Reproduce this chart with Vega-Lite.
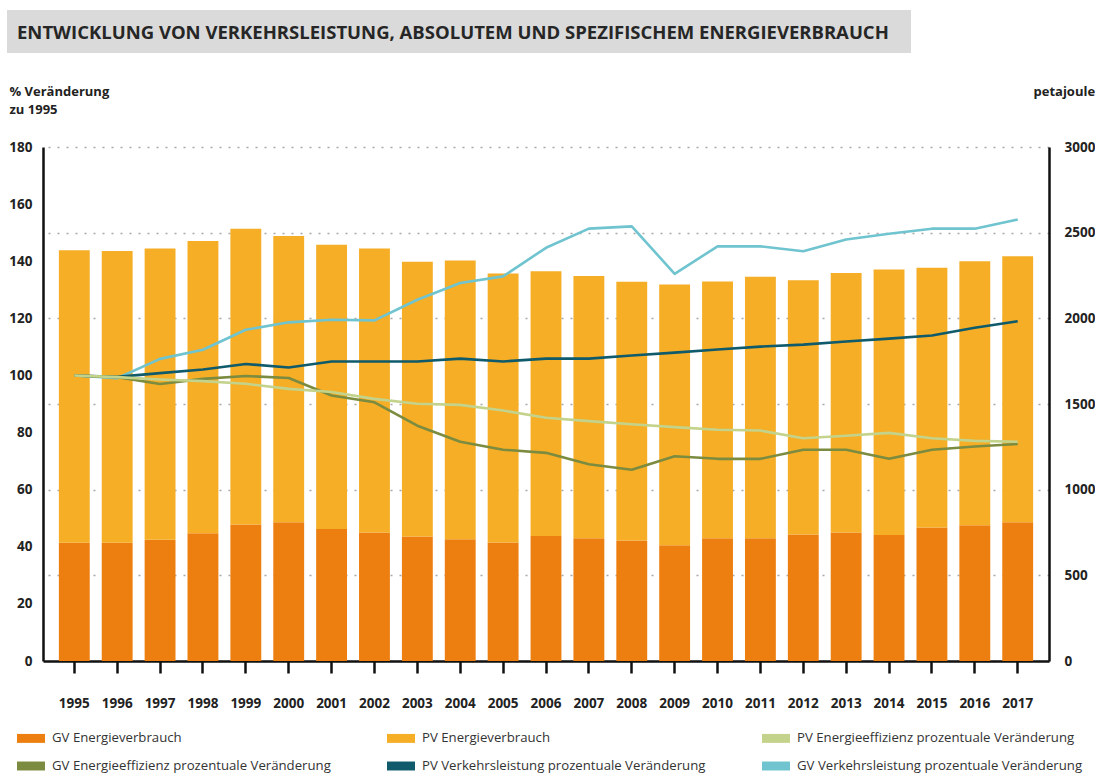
{
  "$schema": "https://vega.github.io/schema/vega-lite/v6.json",
  "background": "white",
  "padding": {"left": 7, "top": 10, "right": 0, "bottom": 0},
  "width": 1006,
  "height": 514,
  "view": {"stroke": null},
  "datasets": {
    "bars": [
      {"year": "1995", "series": "GV Energieverbrauch", "pj": 690}, {"year": "1995", "series": "PV Energieverbrauch", "pj": 1708},
      {"year": "1996", "series": "GV Energieverbrauch", "pj": 690}, {"year": "1996", "series": "PV Energieverbrauch", "pj": 1703},
      {"year": "1997", "series": "GV Energieverbrauch", "pj": 707}, {"year": "1997", "series": "PV Energieverbrauch", "pj": 1700},
      {"year": "1998", "series": "GV Energieverbrauch", "pj": 746}, {"year": "1998", "series": "PV Energieverbrauch", "pj": 1706},
      {"year": "1999", "series": "GV Energieverbrauch", "pj": 796}, {"year": "1999", "series": "PV Energieverbrauch", "pj": 1727},
      {"year": "2000", "series": "GV Energieverbrauch", "pj": 810}, {"year": "2000", "series": "PV Energieverbrauch", "pj": 1670},
      {"year": "2001", "series": "GV Energieverbrauch", "pj": 771}, {"year": "2001", "series": "PV Energieverbrauch", "pj": 1659},
      {"year": "2002", "series": "GV Energieverbrauch", "pj": 750}, {"year": "2002", "series": "PV Energieverbrauch", "pj": 1657},
      {"year": "2003", "series": "GV Energieverbrauch", "pj": 727}, {"year": "2003", "series": "PV Energieverbrauch", "pj": 1603},
      {"year": "2004", "series": "GV Energieverbrauch", "pj": 710}, {"year": "2004", "series": "PV Energieverbrauch", "pj": 1627},
      {"year": "2005", "series": "GV Energieverbrauch", "pj": 691}, {"year": "2005", "series": "PV Energieverbrauch", "pj": 1571},
      {"year": "2006", "series": "GV Energieverbrauch", "pj": 730}, {"year": "2006", "series": "PV Energieverbrauch", "pj": 1545},
      {"year": "2007", "series": "GV Energieverbrauch", "pj": 717}, {"year": "2007", "series": "PV Energieverbrauch", "pj": 1530},
      {"year": "2008", "series": "GV Energieverbrauch", "pj": 703}, {"year": "2008", "series": "PV Energieverbrauch", "pj": 1510},
      {"year": "2009", "series": "GV Energieverbrauch", "pj": 676}, {"year": "2009", "series": "PV Energieverbrauch", "pj": 1521},
      {"year": "2010", "series": "GV Energieverbrauch", "pj": 717}, {"year": "2010", "series": "PV Energieverbrauch", "pj": 1498},
      {"year": "2011", "series": "GV Energieverbrauch", "pj": 717}, {"year": "2011", "series": "PV Energieverbrauch", "pj": 1526},
      {"year": "2012", "series": "GV Energieverbrauch", "pj": 738}, {"year": "2012", "series": "PV Energieverbrauch", "pj": 1485},
      {"year": "2013", "series": "GV Energieverbrauch", "pj": 750}, {"year": "2013", "series": "PV Energieverbrauch", "pj": 1515},
      {"year": "2014", "series": "GV Energieverbrauch", "pj": 736}, {"year": "2014", "series": "PV Energieverbrauch", "pj": 1549},
      {"year": "2015", "series": "GV Energieverbrauch", "pj": 779}, {"year": "2015", "series": "PV Energieverbrauch", "pj": 1516},
      {"year": "2016", "series": "GV Energieverbrauch", "pj": 792}, {"year": "2016", "series": "PV Energieverbrauch", "pj": 1541},
      {"year": "2017", "series": "GV Energieverbrauch", "pj": 810}, {"year": "2017", "series": "PV Energieverbrauch", "pj": 1552}
    ],
    "lines": [
      {"year": "1995", "series": "GV Verkehrsleistung prozentuale Veränderung", "pct": 100},
      {"year": "1996", "series": "GV Verkehrsleistung prozentuale Veränderung", "pct": 99},
      {"year": "1997", "series": "GV Verkehrsleistung prozentuale Veränderung", "pct": 105.8},
      {"year": "1998", "series": "GV Verkehrsleistung prozentuale Veränderung", "pct": 109},
      {"year": "1999", "series": "GV Verkehrsleistung prozentuale Veränderung", "pct": 116},
      {"year": "2000", "series": "GV Verkehrsleistung prozentuale Veränderung", "pct": 118.6},
      {"year": "2001", "series": "GV Verkehrsleistung prozentuale Veränderung", "pct": 119.5},
      {"year": "2002", "series": "GV Verkehrsleistung prozentuale Veränderung", "pct": 119.3},
      {"year": "2003", "series": "GV Verkehrsleistung prozentuale Veränderung", "pct": 126.5},
      {"year": "2004", "series": "GV Verkehrsleistung prozentuale Veränderung", "pct": 132.4},
      {"year": "2005", "series": "GV Verkehrsleistung prozentuale Veränderung", "pct": 134.7},
      {"year": "2006", "series": "GV Verkehrsleistung prozentuale Veränderung", "pct": 144.7},
      {"year": "2007", "series": "GV Verkehrsleistung prozentuale Veränderung", "pct": 151.4},
      {"year": "2008", "series": "GV Verkehrsleistung prozentuale Veränderung", "pct": 152.2},
      {"year": "2009", "series": "GV Verkehrsleistung prozentuale Veränderung", "pct": 135.6},
      {"year": "2010", "series": "GV Verkehrsleistung prozentuale Veränderung", "pct": 145.2},
      {"year": "2011", "series": "GV Verkehrsleistung prozentuale Veränderung", "pct": 145.2},
      {"year": "2012", "series": "GV Verkehrsleistung prozentuale Veränderung", "pct": 143.5},
      {"year": "2013", "series": "GV Verkehrsleistung prozentuale Veränderung", "pct": 147.6},
      {"year": "2014", "series": "GV Verkehrsleistung prozentuale Veränderung", "pct": 149.6},
      {"year": "2015", "series": "GV Verkehrsleistung prozentuale Veränderung", "pct": 151.4},
      {"year": "2016", "series": "GV Verkehrsleistung prozentuale Veränderung", "pct": 151.4},
      {"year": "2017", "series": "GV Verkehrsleistung prozentuale Veränderung", "pct": 154.6},
      {"year": "1995", "series": "PV Verkehrsleistung prozentuale Veränderung", "pct": 100},
      {"year": "1996", "series": "PV Verkehrsleistung prozentuale Veränderung", "pct": 99.5},
      {"year": "1997", "series": "PV Verkehrsleistung prozentuale Veränderung", "pct": 100.8},
      {"year": "1998", "series": "PV Verkehrsleistung prozentuale Veränderung", "pct": 102.1},
      {"year": "1999", "series": "PV Verkehrsleistung prozentuale Veränderung", "pct": 104},
      {"year": "2000", "series": "PV Verkehrsleistung prozentuale Veränderung", "pct": 102.8},
      {"year": "2001", "series": "PV Verkehrsleistung prozentuale Veränderung", "pct": 104.9},
      {"year": "2002", "series": "PV Verkehrsleistung prozentuale Veränderung", "pct": 104.9},
      {"year": "2003", "series": "PV Verkehrsleistung prozentuale Veränderung", "pct": 104.9},
      {"year": "2004", "series": "PV Verkehrsleistung prozentuale Veränderung", "pct": 105.9},
      {"year": "2005", "series": "PV Verkehrsleistung prozentuale Veränderung", "pct": 104.9},
      {"year": "2006", "series": "PV Verkehrsleistung prozentuale Veränderung", "pct": 105.9},
      {"year": "2007", "series": "PV Verkehrsleistung prozentuale Veränderung", "pct": 105.9},
      {"year": "2008", "series": "PV Verkehrsleistung prozentuale Veränderung", "pct": 107},
      {"year": "2009", "series": "PV Verkehrsleistung prozentuale Veränderung", "pct": 108},
      {"year": "2010", "series": "PV Verkehrsleistung prozentuale Veränderung", "pct": 109.1},
      {"year": "2011", "series": "PV Verkehrsleistung prozentuale Veränderung", "pct": 110.1},
      {"year": "2012", "series": "PV Verkehrsleistung prozentuale Veränderung", "pct": 110.8},
      {"year": "2013", "series": "PV Verkehrsleistung prozentuale Veränderung", "pct": 111.9},
      {"year": "2014", "series": "PV Verkehrsleistung prozentuale Veränderung", "pct": 112.9},
      {"year": "2015", "series": "PV Verkehrsleistung prozentuale Veränderung", "pct": 114},
      {"year": "2016", "series": "PV Verkehrsleistung prozentuale Veränderung", "pct": 116.7},
      {"year": "2017", "series": "PV Verkehrsleistung prozentuale Veränderung", "pct": 119},
      {"year": "1995", "series": "GV Energieeffizienz prozentuale Veränderung", "pct": 100},
      {"year": "1996", "series": "GV Energieeffizienz prozentuale Veränderung", "pct": 99.4},
      {"year": "1997", "series": "GV Energieeffizienz prozentuale Veränderung", "pct": 97},
      {"year": "1998", "series": "GV Energieeffizienz prozentuale Veränderung", "pct": 98.8},
      {"year": "1999", "series": "GV Energieeffizienz prozentuale Veränderung", "pct": 99.8},
      {"year": "2000", "series": "GV Energieeffizienz prozentuale Veränderung", "pct": 99.1},
      {"year": "2001", "series": "GV Energieeffizienz prozentuale Veränderung", "pct": 93},
      {"year": "2002", "series": "GV Energieeffizienz prozentuale Veränderung", "pct": 90.6},
      {"year": "2003", "series": "GV Energieeffizienz prozentuale Veränderung", "pct": 82.4},
      {"year": "2004", "series": "GV Energieeffizienz prozentuale Veränderung", "pct": 76.8},
      {"year": "2005", "series": "GV Energieeffizienz prozentuale Veränderung", "pct": 74},
      {"year": "2006", "series": "GV Energieeffizienz prozentuale Veränderung", "pct": 72.9},
      {"year": "2007", "series": "GV Energieeffizienz prozentuale Veränderung", "pct": 68.9},
      {"year": "2008", "series": "GV Energieeffizienz prozentuale Veränderung", "pct": 67},
      {"year": "2009", "series": "GV Energieeffizienz prozentuale Veränderung", "pct": 71.7},
      {"year": "2010", "series": "GV Energieeffizienz prozentuale Veränderung", "pct": 70.8},
      {"year": "2011", "series": "GV Energieeffizienz prozentuale Veränderung", "pct": 70.8},
      {"year": "2012", "series": "GV Energieeffizienz prozentuale Veränderung", "pct": 74},
      {"year": "2013", "series": "GV Energieeffizienz prozentuale Veränderung", "pct": 74},
      {"year": "2014", "series": "GV Energieeffizienz prozentuale Veränderung", "pct": 70.8},
      {"year": "2015", "series": "GV Energieeffizienz prozentuale Veränderung", "pct": 74},
      {"year": "2016", "series": "GV Energieeffizienz prozentuale Veränderung", "pct": 75.1},
      {"year": "2017", "series": "GV Energieeffizienz prozentuale Veränderung", "pct": 76},
      {"year": "1995", "series": "PV Energieeffizienz prozentuale Veränderung", "pct": 100},
      {"year": "1996", "series": "PV Energieeffizienz prozentuale Veränderung", "pct": 99.4},
      {"year": "1997", "series": "PV Energieeffizienz prozentuale Veränderung", "pct": 98.6},
      {"year": "1998", "series": "PV Energieeffizienz prozentuale Veränderung", "pct": 98},
      {"year": "1999", "series": "PV Energieeffizienz prozentuale Veränderung", "pct": 97.1},
      {"year": "2000", "series": "PV Energieeffizienz prozentuale Veränderung", "pct": 95.3},
      {"year": "2001", "series": "PV Energieeffizienz prozentuale Veränderung", "pct": 94.2},
      {"year": "2002", "series": "PV Energieeffizienz prozentuale Veränderung", "pct": 91.8},
      {"year": "2003", "series": "PV Energieeffizienz prozentuale Veränderung", "pct": 90.1},
      {"year": "2004", "series": "PV Energieeffizienz prozentuale Veränderung", "pct": 89.7},
      {"year": "2005", "series": "PV Energieeffizienz prozentuale Veränderung", "pct": 87.7},
      {"year": "2006", "series": "PV Energieeffizienz prozentuale Veränderung", "pct": 85.2},
      {"year": "2007", "series": "PV Energieeffizienz prozentuale Veränderung", "pct": 84},
      {"year": "2008", "series": "PV Energieeffizienz prozentuale Veränderung", "pct": 82.9},
      {"year": "2009", "series": "PV Energieeffizienz prozentuale Veränderung", "pct": 81.9},
      {"year": "2010", "series": "PV Energieeffizienz prozentuale Veränderung", "pct": 81},
      {"year": "2011", "series": "PV Energieeffizienz prozentuale Veränderung", "pct": 80.7},
      {"year": "2012", "series": "PV Energieeffizienz prozentuale Veränderung", "pct": 78},
      {"year": "2013", "series": "PV Energieeffizienz prozentuale Veränderung", "pct": 78.9},
      {"year": "2014", "series": "PV Energieeffizienz prozentuale Veränderung", "pct": 79.9},
      {"year": "2015", "series": "PV Energieeffizienz prozentuale Veränderung", "pct": 78},
      {"year": "2016", "series": "PV Energieeffizienz prozentuale Veränderung", "pct": 77.1},
      {"year": "2017", "series": "PV Energieeffizienz prozentuale Veränderung", "pct": 76.8}
    ]
  },
  "layer": [
    {
      "data": {"name": "bars"},
      "mark": {"type": "bar"},
      "encoding": {
        "x": {"field": "year", "type": "ordinal", "scale": {"paddingInner": 0.28, "paddingOuter": 0.37},
          "axis": {"title": null, "labelAngle": 0, "domainColor": "#111", "domainWidth": 2.5, "tickColor": "#111", "tickWidth": 2.5, "tickSize": 12, "labelFont": "Open Sans", "labelFontWeight": "bold", "labelFontSize": 13.5, "labelColor": "#222", "labelPadding": 23}},
        "y": {"field": "pj", "type": "quantitative", "stack": "zero", "scale": {"domain": [0, 3000], "nice": false},
          "axis": {"orient": "right", "values": [0, 500, 1000, 1500, 2000, 2500, 3000], "format": "d", "ticks": false, "domainColor": "#111", "domainWidth": 2.5, "labelFont": "Open Sans", "labelFontWeight": "bold", "labelFontSize": 13.5, "labelColor": "#222", "labelPadding": 15,
            "grid": true, "gridColor": "#a8a8a8", "gridDash": [2, 7], "gridWidth": 1.5,
            "title": "petajoule", "titleAngle": 0, "titleAlign": "left", "titleBaseline": "alphabetic", "titleX": -16, "titleY": -52, "titleFont": "Open Sans", "titleFontWeight": "bold", "titleFontSize": 13, "titleColor": "#222"}},
        "order": {"field": "series", "sort": "ascending"},
        "color": {"field": "series", "type": "nominal",
          "scale": {
            "domain": ["GV Energieverbrauch", "PV Energieverbrauch", "PV Energieeffizienz prozentuale Veränderung", "GV Energieeffizienz prozentuale Veränderung", "PV Verkehrsleistung prozentuale Veränderung", "GV Verkehrsleistung prozentuale Veränderung"],
            "range": ["#ed7f10", "#f5ae26", "#c4d38b", "#7b8b3f", "#0f5a6b", "#6fc4cf"]
          },
          "legend": {"title": null, "orient": "none", "legendX": -26, "legendY": 577, "direction": "horizontal", "columns": 3, "columnPadding": 56, "rowPadding": 7, "padding": 0,
            "symbolType": "M-1,-0.32H1V0.32H-1Z", "symbolSize": 784, "symbolStrokeWidth": 0, "symbolOpacity": 1,
            "labelFont": "Open Sans", "labelFontSize": 13.2, "labelColor": "#333", "labelOffset": 7, "labelLimit": 400}},
        "opacity": {"datum": "banner", "type": "ordinal", "scale": {"domain": ["banner"], "range": [1]},
          "legend": {"title": "ENTWICKLUNG VON VERKEHRSLEISTUNG, ABSOLUTEM UND SPEZIFISCHEM ENERGIEVERBRAUCH", "orient": "none", "legendX": -36, "legendY": -137,
            "fillColor": "#dadada", "strokeColor": null, "padding": 10, "titleOrient": "left", "titlePadding": 4,
            "titleFont": "Open Sans", "titleFontWeight": "bold", "titleFontSize": 18.5, "titleColor": "#262626", "titleLimit": 1000, "titleBaseline": "top",
            "symbolSize": 0, "symbolOpacity": 0, "symbolStrokeWidth": 0, "labelExpr": "''", "labelOffset": 0, "labelFontSize": 8}}
      }
    },
    {
      "data": {"name": "lines"},
      "mark": {"type": "line", "strokeWidth": 2.6, "strokeJoin": "round"},
      "encoding": {
        "x": {"field": "year", "type": "ordinal"},
        "y": {"field": "pct", "type": "quantitative", "scale": {"domain": [0, 180], "nice": false},
          "axis": {"orient": "left", "values": [0, 20, 40, 60, 80, 100, 120, 140, 160, 180], "ticks": false, "grid": false, "domainColor": "#111", "domainWidth": 2.5, "labelFont": "Open Sans", "labelFontWeight": "bold", "labelFontSize": 13.5, "labelColor": "#222", "labelPadding": 11,
            "title": ["% Veränderung", "zu 1995"], "titleAngle": 0, "titleAlign": "left", "titleBaseline": "alphabetic", "titleX": -34, "titleY": -52, "titleLineHeight": 18, "titleFont": "Open Sans", "titleFontWeight": "bold", "titleFontSize": 13, "titleColor": "#222"}},
        "stroke": {"field": "series", "type": "nominal", "legend": null,
          "scale": {
            "domain": ["PV Energieeffizienz prozentuale Veränderung", "GV Energieeffizienz prozentuale Veränderung", "PV Verkehrsleistung prozentuale Veränderung", "GV Verkehrsleistung prozentuale Veränderung"],
            "range": ["#c4d38b", "#7b8b3f", "#0f5a6b", "#6fc4cf"]
          }}
      }
    }
  ],
  "resolve": {"scale": {"y": "independent"}, "axis": {"y": "independent"}}
}
